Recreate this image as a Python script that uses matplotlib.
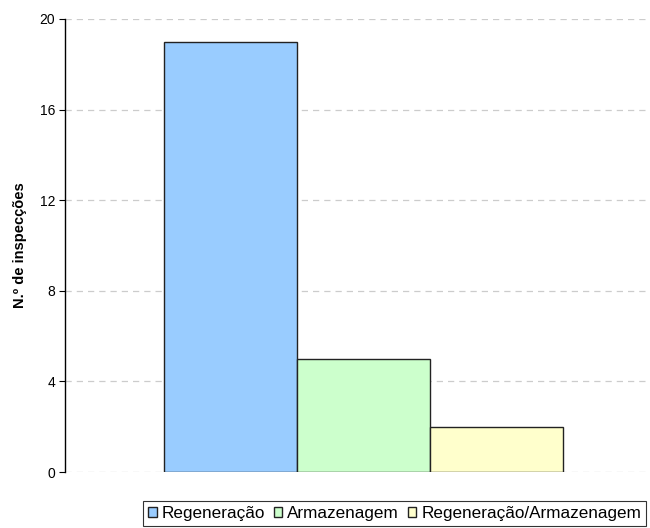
import matplotlib.pyplot as plt
import numpy as np

plt.rcParams['font.family'] = ['Liberation Sans', 'DejaVu Sans']

series = ['Regeneração', 'Armazenagem', 'Regeneração/Armazenagem']
valores = [19, 5, 2]
cores = ['#99CCFF', '#CCFFCC', '#FFFFCC']
yticks = [0, 4, 8, 12, 16, 20]

fig = plt.figure(figsize=(6.5, 5.28), dpi=100)
ax = fig.add_axes([65/650, 1-472/528, 597/650, (472-19)/528])

pos = np.arange(len(series)) - 1
for p, v, c, s in zip(pos, valores, cores, series):
    ax.bar(p, v, width=1.0, color=c, edgecolor='#222222', linewidth=1.0, label=s, zorder=3)

ax.set_xlim(-2.244, 2.244)
ax.set_ylim(0, 20)
ax.set_yticks(yticks)
ax.tick_params(axis='y', labelsize=10, length=4, direction='out', pad=3)
ax.set_xticks([])
ax.yaxis.grid(True, linestyle=(0, (5, 4)), color='#cccccc', linewidth=0.9, zorder=0)
for sp in ['top', 'right', 'bottom']:
    ax.spines[sp].set_visible(False)
ax.spines['left'].set_linewidth(1.0)
ax.set_ylabel('N.º de inspecções', fontsize=10.5, fontweight='bold', labelpad=9)

leg = fig.legend(loc='upper left', bbox_to_anchor=(143/650, 1-501/528), ncol=3,
                 fontsize=12.3, frameon=True, fancybox=False, handlelength=0.5,
                 handleheight=0.5, handletextpad=0.3, columnspacing=0.5,
                 borderpad=0.3, borderaxespad=0)
leg.get_frame().set_edgecolor('black')
leg.get_frame().set_linewidth(0.8)

plt.savefig('out.png', dpi=100)
